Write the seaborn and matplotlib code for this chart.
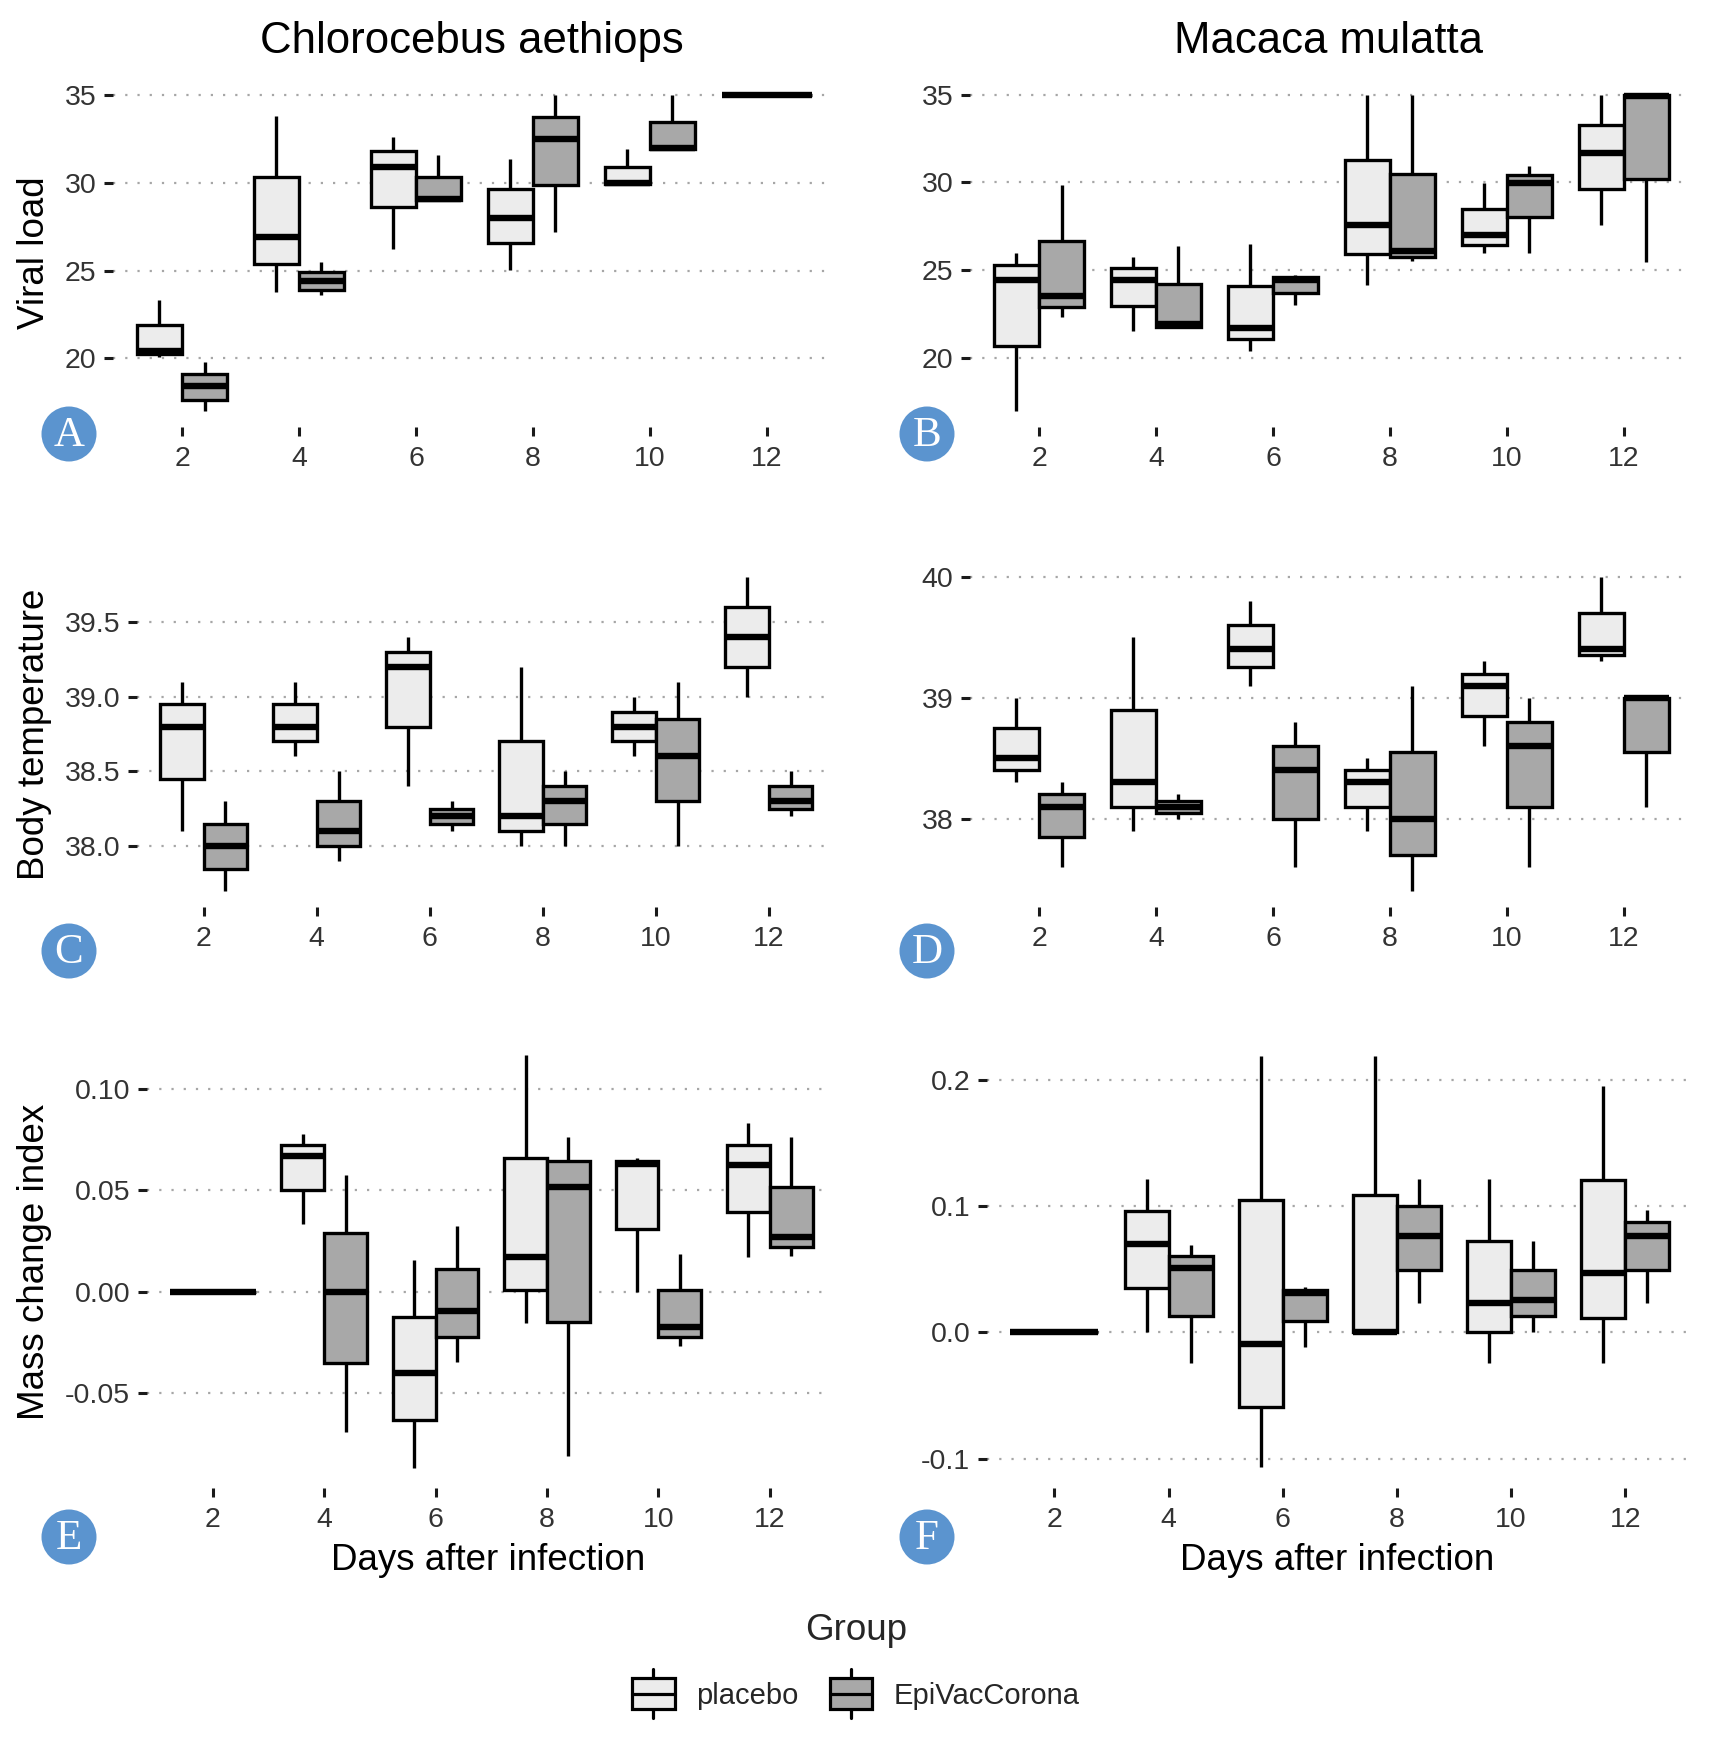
import numpy as np
import pandas as pd
import matplotlib
matplotlib.use("Agg")
import matplotlib.pyplot as plt
import seaborn as sns
from matplotlib.patches import Ellipse, Rectangle, Patch
from matplotlib.lines import Line2D
from matplotlib.legend_handler import HandlerBase
from matplotlib.ticker import FormatStrFormatter
from matplotlib.transforms import blended_transform_factory

# ---- data: each box is [min, q1, median, q3, max] ----
days = [2, 4, 6, 8, 10, 12]
groups = ["placebo", "EpiVacCorona"]
colors = {"placebo": "#ECECEC", "EpiVacCorona": "#A8A8A8"}

# Chlorocebus aethiops
ca_viral_placebo = [[20.1, 20.25, 20.4, 21.9, 23.35], [23.8, 25.35, 26.9, 30.35, 33.8],
                    [26.25, 28.6, 30.9, 31.8, 32.6], [25.05, 26.55, 28.0, 29.65, 31.35],
                    [29.9, 29.92, 30.0, 30.9, 31.9], [35.0, 35.0, 35.0, 35.0, 35.0]]
ca_viral_epivac = [[17.0, 17.65, 18.45, 19.1, 19.8], [23.6, 23.9, 24.4, 24.9, 25.5],
                   [29.0, 29.0, 29.1, 30.35, 31.6], [27.2, 29.85, 32.5, 33.75, 35.0],
                   [31.9, 31.9, 32.0, 33.45, 35.0], [35.0, 35.0, 35.0, 35.0, 35.0]]
ca_temp_placebo = [[38.1, 38.45, 38.8, 38.95, 39.1], [38.6, 38.7, 38.8, 38.95, 39.1],
                   [38.4, 38.8, 39.2, 39.3, 39.4], [38.0, 38.1, 38.2, 38.7, 39.2],
                   [38.6, 38.7, 38.8, 38.9, 39.0], [39.0, 39.2, 39.4, 39.6, 39.8]]
ca_temp_epivac = [[37.7, 37.85, 38.0, 38.15, 38.3], [37.9, 38.0, 38.1, 38.3, 38.5],
                  [38.1, 38.15, 38.2, 38.25, 38.3], [38.0, 38.15, 38.3, 38.4, 38.5],
                  [38.0, 38.3, 38.6, 38.85, 39.1], [38.2, 38.25, 38.3, 38.4, 38.5]]
ca_mass_placebo = [[0.0, 0.0, 0.0, 0.0, 0.0], [0.0335, 0.050, 0.0668, 0.0724, 0.078],
                   [-0.0865, -0.063, -0.040, -0.0125, 0.0155], [-0.0155, 0.001, 0.017, 0.066, 0.1165],
                   [0.0, 0.031, 0.063, 0.0645, 0.066], [0.017, 0.0395, 0.0625, 0.0726, 0.083]]
ca_mass_epivac = [[0.0, 0.0, 0.0, 0.0, 0.0], [-0.069, -0.035, 0.0, 0.029, 0.0575],
                  [-0.0345, -0.022, -0.0095, 0.0115, 0.0325], [-0.081, -0.015, 0.0515, 0.0645, 0.0765],
                  [-0.0265, -0.022, -0.0175, 0.001, 0.0187], [0.0175, 0.0223, 0.027, 0.0515, 0.0765]]

# Macaca mulatta
mm_viral_placebo = [[16.95, 20.65, 24.45, 25.3, 26.0], [21.5, 22.95, 24.45, 25.1, 25.75],
                    [20.4, 21.05, 21.7, 24.1, 26.5], [24.15, 25.9, 27.6, 31.3, 35.0],
                    [26.0, 26.45, 27.0, 28.5, 29.95], [27.6, 29.65, 31.7, 33.3, 35.0]]
mm_viral_epivac = [[22.3, 22.9, 23.5, 26.65, 29.85], [21.7, 21.75, 21.95, 24.2, 26.4],
                   [23.0, 23.7, 24.45, 24.6, 24.7], [25.5, 25.75, 26.1, 30.5, 35.0],
                   [26.0, 28.0, 29.95, 30.45, 30.95], [25.45, 30.2, 34.95, 35.0, 35.0]]
mm_temp_placebo = [[38.3, 38.4, 38.5, 38.75, 39.0], [37.9, 38.1, 38.3, 38.9, 39.5],
                   [39.1, 39.25, 39.4, 39.6, 39.8], [37.9, 38.1, 38.3, 38.4, 38.5],
                   [38.6, 38.85, 39.1, 39.2, 39.3], [39.3, 39.35, 39.4, 39.7, 40.0]]
mm_temp_epivac = [[37.6, 37.85, 38.1, 38.2, 38.3], [38.0, 38.05, 38.1, 38.15, 38.2],
                  [37.6, 38.0, 38.4, 38.6, 38.8], [37.4, 37.7, 38.0, 38.55, 39.1],
                  [37.6, 38.1, 38.6, 38.8, 39.0], [38.1, 38.55, 39.0, 39.0, 39.02]]
mm_mass_placebo = [[0.0, 0.0, 0.0, 0.0, 0.0], [0.0, 0.035, 0.070, 0.096, 0.1215],
                   [-0.107, -0.0588, -0.0094, 0.105, 0.219], [0.0, 0.0, 0.0, 0.109, 0.219],
                   [-0.0244, 0.0, 0.0232, 0.0726, 0.1215], [-0.0244, 0.0113, 0.0467, 0.1207, 0.1947]]
mm_mass_epivac = [[0.0, 0.0, 0.0, 0.0, 0.0], [-0.0247, 0.013, 0.0506, 0.0607, 0.069],
                  [-0.0115, 0.009, 0.031, 0.0335, 0.0355], [0.0232, 0.0496, 0.0765, 0.0998, 0.1215],
                  [0.0, 0.013, 0.0255, 0.0493, 0.0726], [0.0232, 0.0496, 0.0765, 0.0871, 0.0964]]


def long_table(placebo, epivac):
    rows = []
    for group, boxes in zip(groups, [placebo, epivac]):
        for day, vals in zip(days, boxes):
            for v in vals:
                rows.append({"day": day, "Group": group, "value": v})
    return pd.DataFrame(rows)


class BoxGlyph(HandlerBase):
    # little boxplot icon like the ggplot legend key
    def create_artists(self, legend, orig_handle, xdescent, ydescent, width, height, fontsize, trans):
        x0 = -xdescent
        cx = x0 + width / 2
        cy = -ydescent + height / 2
        bh = 0.52 * fontsize
        wh = 0.85 * fontsize
        whisk = Line2D([cx, cx], [cy - wh, cy + wh], color="black", lw=2.3, transform=trans)
        box = Rectangle((x0, cy - bh), width, 2 * bh, facecolor=orig_handle.get_facecolor(),
                        edgecolor="black", lw=2.3, transform=trans)
        med = Line2D([x0, x0 + width], [cy, cy], color="black", lw=2.3, transform=trans)
        return [whisk, box, med]


sns.set_theme(style="white")
plt.rcParams["font.family"] = ["Liberation Sans", "DejaVu Sans"]
plt.rcParams["axes.unicode_minus"] = False

W, H = 1713, 1739
fig = plt.figure(figsize=(W / 100, H / 100), dpi=100)


def rect(l, r, t, b):
    return [l / W, 1 - b / H, (r - l) / W, (b - t) / H]


panels = [
    # data, ylim, yticks, fmt, position, letter, badge centre, ylabel, title, xlabel
    (ca_viral_placebo, ca_viral_epivac, (16.1, 35.9), [20, 25, 30, 35], "%d",
     rect(113, 830, 79, 427), "A", (69, 434), "Viral load", "Chlorocebus aethiops", False),
    (mm_viral_placebo, mm_viral_epivac, (16.05, 35.9), [20, 25, 30, 35], "%d",
     rect(970, 1687, 79, 427), "B", (927, 434), None, "Macaca mulatta", False),
    (ca_temp_placebo, ca_temp_epivac, (37.595, 39.905), [38.0, 38.5, 39.0, 39.5], "%.1f",
     rect(137, 830, 561, 907), "C", (69, 951), "Body temperature", None, False),
    (mm_temp_placebo, mm_temp_epivac, (37.27, 40.13), [38, 39, 40], "%d",
     rect(970, 1687, 561, 907), "D", (927, 951), None, None, False),
    (ca_mass_placebo, ca_mass_epivac, (-0.0966, 0.1266), [-0.05, 0.0, 0.05, 0.10], "%.2f",
     rect(147, 830, 1035, 1488), "E", (69, 1537), "Mass change index", None, True),
    (mm_mass_placebo, mm_mass_epivac, (-0.1233, 0.2353), [-0.1, 0.0, 0.1, 0.2], "%.1f",
     rect(987, 1687, 1035, 1488), "F", (927, 1537), None, None, True),
]

for (plac, epi, ylim, yticks, fmt, pos, letter, badge, ylab, title, xlab) in panels:
    ax = fig.add_axes(pos)
    df = long_table(plac, epi)
    sns.boxplot(data=df, x="day", y="value", hue="Group", hue_order=groups,
                palette=colors, saturation=1, native_scale=True, width=0.77, gap=0,
                whis=(0, 100), linecolor="black", linewidth=2.4, legend=False,
                showcaps=False, medianprops={"linewidth": 4.6}, ax=ax)
    ax.set_xlim(0.82, 13.08)
    ax.set_ylim(*ylim)
    ax.set_xticks(days)
    ax.set_xticklabels([str(d) for d in days])
    ax.set_yticks(yticks)
    ax.yaxis.set_major_formatter(FormatStrFormatter(fmt))
    for s in ax.spines.values():
        s.set_visible(False)
    ax.set_axisbelow(True)
    ax.yaxis.grid(True, linestyle=(0, (1, 4.5)), color="#A6A6A6", lw=1.6)
    ax.xaxis.grid(False)
    ax.tick_params(axis="both", length=6.5, width=2.2, color="#1A1A1A",
                   labelsize=20.5, labelcolor="#333333", left=True, bottom=True)
    ax.tick_params(axis="y", pad=5.5)
    ax.tick_params(axis="x", pad=7)
    ax.set_xlabel("")
    ax.set_ylabel("")
    if ylab:
        ax.set_ylabel(ylab, fontsize=26.5, color="black", va="center")
        ax.yaxis.set_label_coords(35 / W, 0.5,
                                  transform=blended_transform_factory(fig.transFigure, ax.transAxes))
    if xlab:
        ax.set_xlabel("Days after infection", fontsize=26.5, color="black", va="center")
        ax.xaxis.set_label_coords(0.5, 1 - 1560 / H,
                                  transform=blended_transform_factory(ax.transAxes, fig.transFigure))
    if title:
        ax.set_title(title, fontsize=31.5, pad=19, color="black")

    # blue letter badge
    bx, by = badge
    r = 27.5
    fig.add_artist(Ellipse((bx / W, 1 - by / H), 2 * r / W, 2 * r / H,
                           transform=fig.transFigure, facecolor="#5B94CF", edgecolor="none"))
    fig.text(bx / W, 1 - (by + 2) / H, letter, color="white", fontsize=31,
             family=["Liberation Serif", "DejaVu Serif"], ha="center", va="center")

fig.text(856 / W, 1 - 1631 / H, "Group", fontsize=26.5, ha="center", va="center")
handles = [Patch(facecolor=colors[g], edgecolor="black") for g in groups]
fig.legend(handles, groups, handler_map={Patch: BoxGlyph()}, loc="center",
           bbox_to_anchor=(856 / W, 1 - 1695 / H), ncol=2, frameon=False, fontsize=21,
           handlelength=1.45, handleheight=1.0, handletextpad=0.75, columnspacing=1.05)

fig.savefig("out.png", dpi=100)
